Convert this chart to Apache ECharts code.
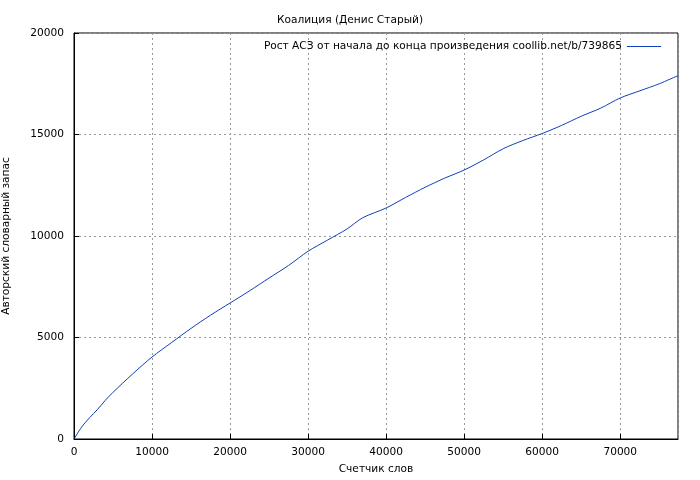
<!DOCTYPE html>
<html><head><meta charset="utf-8">
<script src="https://cdn.jsdelivr.net/npm/echarts@6/dist/echarts.min.js"></script>
<style>body{margin:0;background:#fff}#c{width:700px;height:480px}</style>
</head><body><div id="c"></div>
<script>
// Рост АСЗ: счетчик слов -> словарный запас
var words = [0, 1000, 2000, 3000, 4000, 5000, 7500, 10000, 12500, 15000, 17500, 20000, 22500, 25000, 27500, 30000, 32500, 35000, 37000, 40000, 42500, 45000, 47500, 50000, 52500, 55000, 57500, 60000, 62500, 65000, 67500, 70000, 72500, 75000, 77400];
var vocab = [0, 600, 1050, 1450, 1900, 2300, 3200, 4040, 4750, 5450, 6100, 6700, 7300, 7930, 8550, 9250, 9800, 10350, 10900, 11380, 11900, 12400, 12850, 13250, 13750, 14300, 14700, 15050, 15450, 15900, 16300, 16800, 17150, 17500, 17900];
var xTicks = [0, 10000, 20000, 30000, 40000, 50000, 60000, 70000];
var yTicks = [0, 5000, 10000, 15000, 20000];

var chart = echarts.init(document.getElementById('c'));
var font = 'DejaVu Sans';
chart.setOption({
    backgroundColor: '#fff',
    animation: false,
    title: {
        text: 'Коалиция (Денис Старый)',
        left: 'center', top: 10,
        textStyle: {fontSize: 10.6, fontWeight: 'normal', color: '#000', fontFamily: font}
    },
    legend: {
        right: 34, top: 36, align: 'right',
        icon: 'rect', itemWidth: 34, itemHeight: 1,
        textStyle: {fontSize: 10.6, color: '#000', fontFamily: font},
        data: ['Рост АСЗ от начала до конца произведения coollib.net/b/739865']
    },
    grid: {left: 74, right: 22, top: 33, bottom: 41, outerBoundsMode: 'none', containLabel: false,
        show: true, borderColor: '#000', borderWidth: 1},
    xAxis: {
        type: 'value', min: 0, max: 77400, interval: 10000,
        name: 'Счетчик слов', nameLocation: 'middle', nameGap: 25,
        nameTextStyle: {fontSize: 10.6, color: '#000', fontFamily: font},
        axisLine: {lineStyle: {color: '#000'}},
        axisTick: {inside: true, length: 5, lineStyle: {color: '#000'}},
        axisLabel: {fontSize: 10.6, color: '#000', fontFamily: font, showMaxLabel: false,
            formatter: function (v) { return xTicks.indexOf(v) >= 0 ? v : ''; }},
        splitLine: {lineStyle: {color: '#999', type: [2, 3]}}
    },
    yAxis: {
        type: 'value', min: 0, max: 20000, interval: 5000,
        name: 'Авторский словарный запас', nameLocation: 'middle', nameGap: 62,
        nameTextStyle: {fontSize: 10.6, color: '#000', fontFamily: font},
        axisLine: {show: true, lineStyle: {color: '#000'}},
        axisTick: {show: true, inside: true, length: 5, lineStyle: {color: '#000'}},
        axisLabel: {fontSize: 10.6, color: '#000', fontFamily: font, margin: 10,
            formatter: function (v) { return yTicks.indexOf(v) >= 0 ? v : ''; }},
        splitLine: {lineStyle: {color: '#999', type: [2, 3]}}
    },
    series: [{
        name: 'Рост АСЗ от начала до конца произведения coollib.net/b/739865',
        type: 'line', showSymbol: false, smooth: 0.3,
        lineStyle: {color: '#0f3fb8', width: 1},
        itemStyle: {color: '#0f3fb8'},
        data: words.map(function (w, i) { return [w, vocab[i]]; })
    }]
});
</script></body></html>
